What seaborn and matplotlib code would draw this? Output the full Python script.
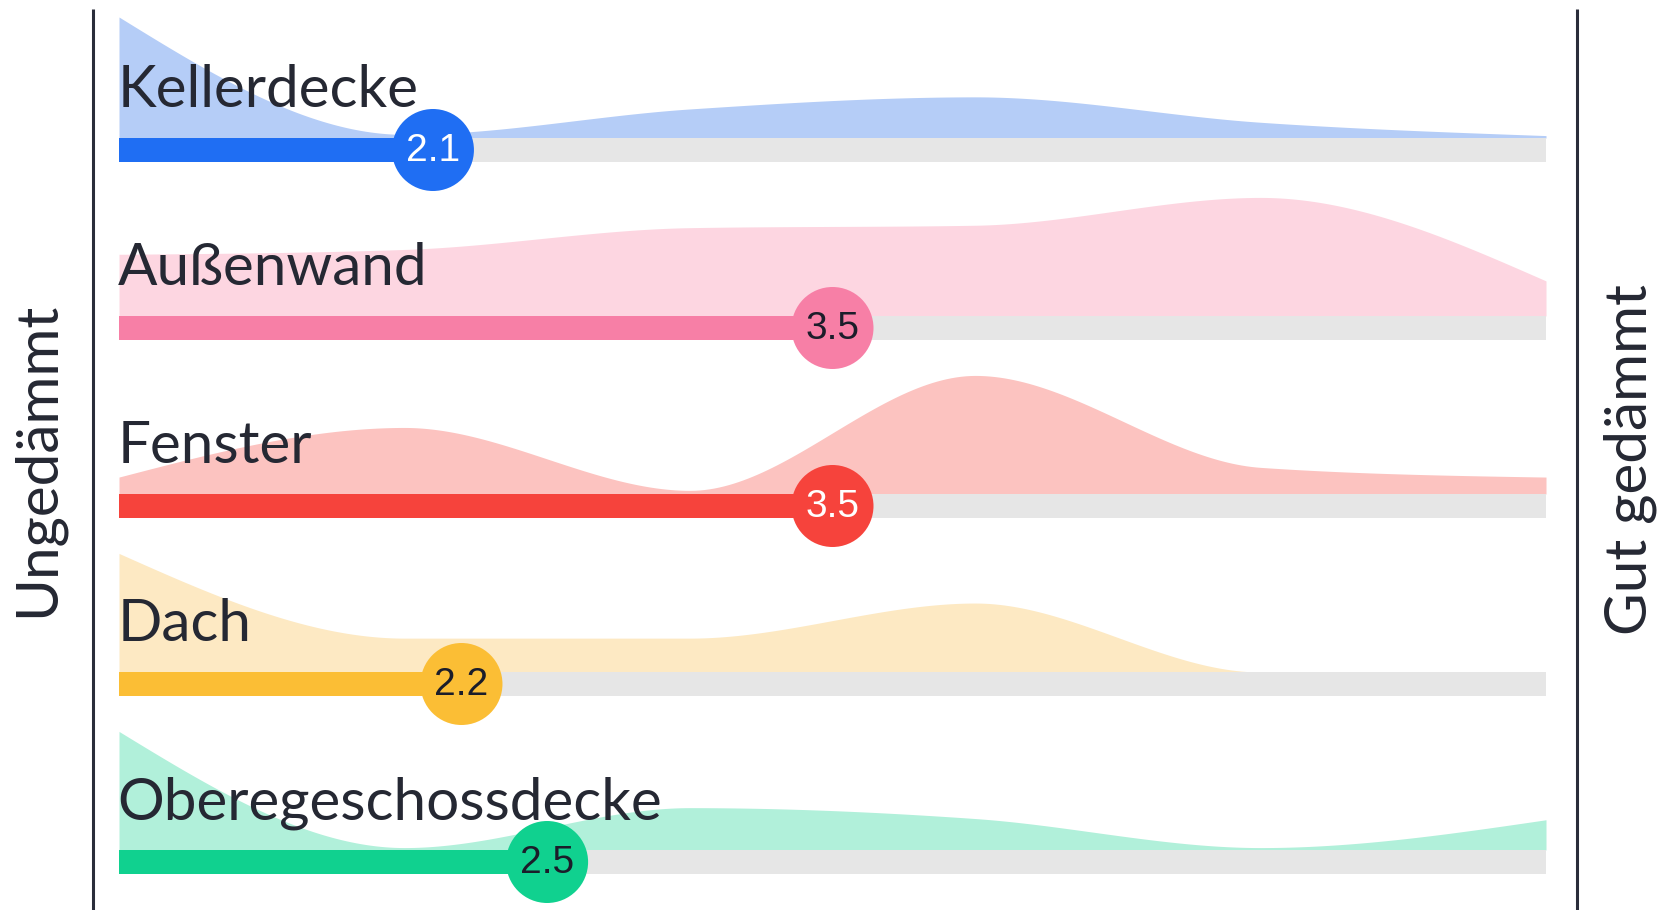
import numpy as np
import pandas as pd
import matplotlib
matplotlib.use("Agg")
import matplotlib.pyplot as plt
import seaborn as sns

# ---------------- data ----------------
categories = ["Kellerdecke", "Außenwand", "Fenster", "Dach", "Oberegeschossdecke"]
scores = [2.1, 3.5, 3.5, 2.2, 2.5]
scale_points = [1, 2, 3, 4, 5, 6]
# relative distribution of answers on the 1..6 scale (max = 100)
dist_kellerdecke = [100, 3, 24, 34, 13, 2]
dist_aussenwand = [51, 55, 73, 75, 98, 29]
dist_fenster = [14, 55, 3, 98, 22, 14]
dist_dach = [98, 28, 28, 57, 0, 0]
dist_oberegeschoss = [98, 2, 35, 26, 2, 25]
left_label = "Ungedämmt"
right_label = "Gut gedämmt"

bar_colors = ["#1f6ef3", "#f77fa6", "#f6433c", "#fbbe35", "#10d18f"]
area_colors = ["#b5cdf7", "#fdd6e1", "#fcc3c0", "#fde9c3", "#b1f0da"]
value_text_colors = ["white", "#1b1d2a", "white", "#1b1d2a", "#1b1d2a"]

dists = [dist_kellerdecke, dist_aussenwand, dist_fenster, dist_dach, dist_oberegeschoss]

df = pd.DataFrame({"category": categories, "score": scores})

# ---------------- helpers ----------------
def monotone_curve(x, y, n=60):
    """d3 curveMonotoneX style interpolation."""
    x = np.asarray(x, float)
    y = np.asarray(y, float)
    k = len(x)
    h = np.diff(x)
    s = np.diff(y) / h
    t = np.zeros(k)
    for i in range(1, k - 1):
        h0, h1 = h[i - 1], h[i]
        s0, s1 = s[i - 1], s[i]
        p = (s0 * h1 + s1 * h0) / (h0 + h1)
        t[i] = (np.sign(s0) + np.sign(s1)) * min(abs(s0), abs(s1), 0.5 * abs(p))
    t[0] = (3 * s[0] - t[1]) / 2
    t[-1] = (3 * s[-1] - t[-2]) / 2
    xs, ys = [], []
    for i in range(k - 1):
        u = np.linspace(0, 1, n)
        dx = h[i]
        h00 = 2 * u**3 - 3 * u**2 + 1
        h10 = u**3 - 2 * u**2 + u
        h01 = -2 * u**3 + 3 * u**2
        h11 = u**3 - u**2
        yy = h00 * y[i] + h10 * dx * t[i] + h01 * y[i + 1] + h11 * dx * t[i + 1]
        xs.append(x[i] + u * dx)
        ys.append(yy)
    return np.concatenate(xs), np.concatenate(ys)

# ---------------- figure ----------------
sns.set_theme(style="white")
plt.rcParams["font.family"] = ["Lato", "DejaVu Sans"]

W, H = 1665, 910
fig = plt.figure(figsize=(W / 100, H / 100), dpi=100)
ax = fig.add_axes([0, 0, 1, 1])

x0_px, unit_px = 119.0, 285.4
ax.set_xlim(1 - x0_px / unit_px, 1 + (W - x0_px) / unit_px)
ax.set_ylim(H, 0)
ax.axis("off")

row_top = 138.0
row_step = 178.0
track_h = 24.0
ridge_scale = 1.21  # px per distribution unit
text_dark = "#252833"

vmin, vmax = scale_points[0], scale_points[-1]

for i, (cat, val, dist) in enumerate(zip(categories, scores, dists)):
    base = row_top + i * row_step
    # ridge area
    xs, ys = monotone_curve(scale_points, dist)
    ys = np.clip(ys, 0, None)
    ax.fill_between(xs, base, base - ys * ridge_scale, color=area_colors[i], lw=0, zorder=1)
    # grey track
    ax.fill_between([vmin, vmax], base, base + track_h, color="#e6e6e6", lw=0, zorder=2)
    # coloured progress
    ax.fill_between([vmin, val], base, base + track_h, color=bar_colors[i], lw=0, zorder=3)
    # category label
    ax.text(vmin - 0.005, base - 31, cat, fontsize=42, fontweight="normal", color=text_dark,
            ha="left", va="baseline", zorder=6)

# value circles via seaborn
df["y"] = [row_top + i * row_step + track_h / 2 for i in range(len(categories))]
sns.scatterplot(data=df, x="score", y="y", hue="category", palette=bar_colors,
                s=(82 / 1.389) ** 2, edgecolor="none", legend=False, ax=ax, zorder=5)
ax.set_xlabel("")
ax.set_ylabel("")
for i, row in df.iterrows():
    ax.text(row["score"], row["y"] + 1, f"{row['score']:.1f}", fontsize=28,
            family=["Liberation Sans Narrow", "Liberation Sans", "DejaVu Sans"],
            color=value_text_colors[i], ha="center", va="center", zorder=7)

# side lines
for xpx in (93, 1577):
    xv = 1 + (xpx - x0_px) / unit_px
    ax.plot([xv, xv], [9, H], color="#2a2d3a", lw=2.2, solid_capstyle="butt", zorder=4)

ax.text(1 + (37 - x0_px) / unit_px, 459, left_label, rotation=90, fontsize=42,
        fontweight="normal", color=text_dark, ha="center", va="center")
ax.text(1 + (1630 - x0_px) / unit_px, 460, right_label, rotation=90, fontsize=42,
        fontweight="normal", color=text_dark, ha="center", va="center")

fig.savefig("out.png", dpi=100, facecolor="white")
